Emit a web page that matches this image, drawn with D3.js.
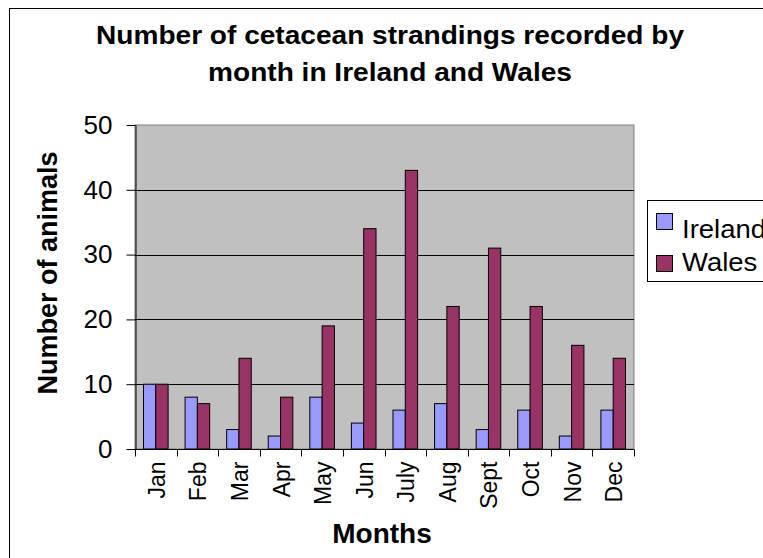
<!DOCTYPE html>
<html>
<head>
<meta charset="utf-8">
<script src="https://cdn.jsdelivr.net/npm/d3@7"></script>
<style>
  html, body { margin: 0; padding: 0; background: #fff; }
  svg { display: block; font-family: "Liberation Sans", Arial, sans-serif; }
</style>
</head>
<body>
<svg id="chart" width="763" height="558"></svg>
<script>
// Monthly cetacean strandings
const months = ["Jan", "Feb", "Mar", "Apr", "May", "Jun", "July", "Aug", "Sept", "Oct", "Nov", "Dec"];
const seriesNames = ["Ireland", "Wales"];
const irelandValues = [10, 8, 3, 2, 8, 4, 6, 7, 3, 6, 2, 6];
const walesValues = [10, 7, 14, 8, 19, 34, 43, 22, 31, 22, 16, 14];
const yTicks = [0, 10, 20, 30, 40, 50];
const seriesColors = ["#9999FF", "#993366"];

const svg = d3.select("#chart");
const plot = { left: 135, top: 125, right: 634, bottom: 449 };

// Outer chart border (runs off the right and bottom edges)
svg.append("rect")
  .attr("x", 9.5).attr("y", 8.5)
  .attr("width", 800).attr("height", 600)
  .attr("fill", "#fff").attr("stroke", "#000").attr("stroke-width", 1);

const x = d3.scaleBand().domain(months).range([plot.left, plot.right]).padding(0);
const x1 = d3.scaleBand().domain(seriesNames).range([0, x.bandwidth()]).paddingOuter(0.69).paddingInner(0);
const y = d3.scaleLinear().domain([0, 50]).range([plot.bottom, plot.top]);

// Plot area
svg.append("rect")
  .attr("x", plot.left).attr("y", plot.top)
  .attr("width", plot.right - plot.left).attr("height", plot.bottom - plot.top)
  .attr("fill", "#C0C0C0").attr("stroke", "#808080").attr("stroke-width", 1);

// Gridlines
svg.append("g").selectAll("line")
  .data(yTicks.filter(d => d > 0 && d < 50))
  .join("line")
  .attr("x1", plot.left).attr("x2", plot.right)
  .attr("y1", d => Math.round(y(d)) + 0.5).attr("y2", d => Math.round(y(d)) + 0.5)
  .attr("stroke", "#000").attr("stroke-width", 1);

// Bars
const data = months.map((m, i) => ({ month: m, values: [irelandValues[i], walesValues[i]] }));
const groups = svg.append("g").selectAll("g")
  .data(data)
  .join("g")
  .attr("transform", d => `translate(${x(d.month)},0)`);
groups.selectAll("rect")
  .data(d => d.values.map((v, j) => ({ name: seriesNames[j], value: v, color: seriesColors[j] })))
  .join("rect")
  .attr("x", d => x1(d.name))
  .attr("y", d => y(d.value))
  .attr("width", x1.bandwidth())
  .attr("height", d => y(0) - y(d.value))
  .attr("fill", d => d.color)
  .attr("stroke", "#000").attr("stroke-width", 1);

// Y axis
const yAxis = svg.append("g")
  .attr("transform", `translate(${plot.left + 0.5},0)`)
  .call(d3.axisLeft(y).tickValues(yTicks).tickSize(9).tickPadding(14).tickSizeOuter(0));
yAxis.select(".domain").attr("stroke", "#000");
yAxis.selectAll(".tick line").attr("stroke", "#000");
yAxis.selectAll("text").attr("font-size", 26).attr("fill", "#000")
  .attr("font-family", "Liberation Sans, Arial, sans-serif");

// X axis: ticks sit between the month groups
const xAxisG = svg.append("g").attr("transform", `translate(0,${plot.bottom + 0.5})`);
xAxisG.append("line")
  .attr("x1", plot.left).attr("x2", plot.right)
  .attr("stroke", "#000");
xAxisG.selectAll("line.tick")
  .data(d3.range(months.length + 1))
  .join("line").attr("class", "tick")
  .attr("x1", i => Math.round(plot.left + i * x.bandwidth()) + 0.5)
  .attr("x2", i => Math.round(plot.left + i * x.bandwidth()) + 0.5)
  .attr("y1", 0).attr("y2", 7)
  .attr("stroke", "#000");
xAxisG.selectAll("text")
  .data(months)
  .join("text")
  .attr("transform", d => `translate(${x(d) + x.bandwidth() / 2 + 9},12) rotate(-90)`)
  .attr("text-anchor", "end")
  .attr("font-size", 23)
  .attr("fill", "#000")
  .text(d => d);

// Title (slightly widened lettering)
const titleLines = [
  { text: "Number of cetacean strandings recorded by", y: 44 },
  { text: "month in Ireland and Wales", y: 81 }
];
svg.append("g").selectAll("text")
  .data(titleLines)
  .join("text")
  .attr("transform", d => `translate(390,${d.y}) scale(1.08,1)`)
  .attr("text-anchor", "middle").attr("font-size", 26).attr("font-weight", "bold")
  .text(d => d.text);

// Axis titles
svg.append("text")
  .attr("transform", `translate(57,273) rotate(-90)`)
  .attr("text-anchor", "middle").attr("font-size", 27).attr("font-weight", "bold")
  .text("Number of animals");
svg.append("text")
  .attr("x", 382).attr("y", 543)
  .attr("text-anchor", "middle").attr("font-size", 28).attr("font-weight", "bold")
  .text("Months");

// Legend
const legend = svg.append("g");
legend.append("rect")
  .attr("x", 647.5).attr("y", 200.5)
  .attr("width", 140).attr("height", 81)
  .attr("fill", "#fff").attr("stroke", "#000");
const legendItems = [
  { name: seriesNames[0], color: seriesColors[0], swatchY: 213, textY: 238 },
  { name: seriesNames[1], color: seriesColors[1], swatchY: 255, textY: 271 }
];
const items = legend.selectAll("g.item")
  .data(legendItems)
  .join("g").attr("class", "item");
items.append("rect")
  .attr("x", 656.5).attr("y", d => d.swatchY + 0.5)
  .attr("width", 16).attr("height", 16)
  .attr("fill", d => d.color).attr("stroke", "#000");
items.append("text")
  .attr("transform", d => `translate(682,${d.textY}) scale(1.1,1)`)
  .attr("font-size", 25)
  .text(d => d.name);
</script>
</body>
</html>
